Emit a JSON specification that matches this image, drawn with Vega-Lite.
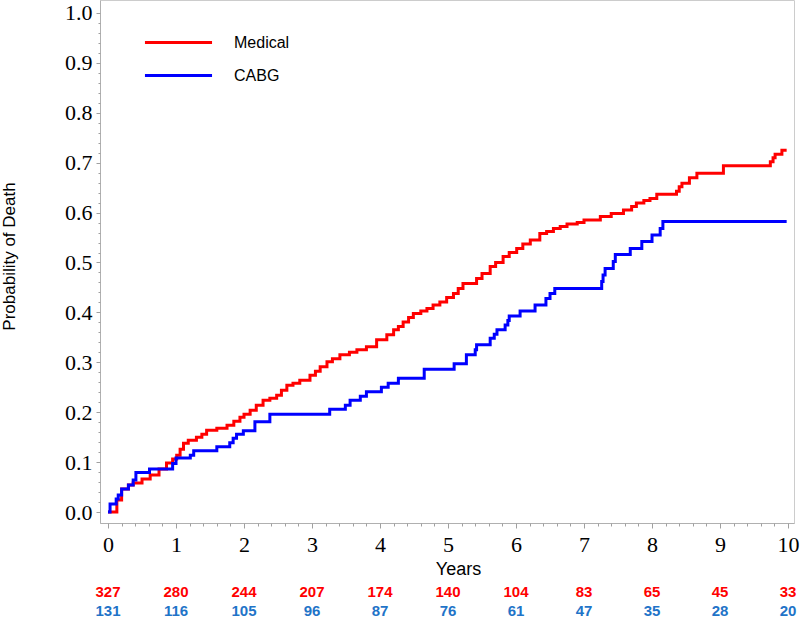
{
  "$schema": "https://vega.github.io/schema/vega-lite/v6.json",
  "autosize": "none",
  "width": 694,
  "height": 523,
  "padding": {"left": 100, "top": 0, "right": 6, "bottom": 96},
  "background": "white",
  "config": {
    "view": {"stroke": "#cccccc", "strokeWidth": 1},
    "axis": {"grid": false, "labelOverlap": false}
  },
  "resolve": {"axis": {"x": "independent", "y": "independent"}},
  "datasets": {
    "curves": [
      {"group": "Medical", "t": 0, "p": 0},
      {"group": "Medical", "t": 0.13, "p": 0.024},
      {"group": "Medical", "t": 0.2, "p": 0.046},
      {"group": "Medical", "t": 0.3, "p": 0.054},
      {"group": "Medical", "t": 0.37, "p": 0.058},
      {"group": "Medical", "t": 0.5, "p": 0.066},
      {"group": "Medical", "t": 0.62, "p": 0.074},
      {"group": "Medical", "t": 0.75, "p": 0.086},
      {"group": "Medical", "t": 0.86, "p": 0.098},
      {"group": "Medical", "t": 0.95, "p": 0.106},
      {"group": "Medical", "t": 1.01, "p": 0.114},
      {"group": "Medical", "t": 1.06, "p": 0.126},
      {"group": "Medical", "t": 1.11, "p": 0.138},
      {"group": "Medical", "t": 1.18, "p": 0.144},
      {"group": "Medical", "t": 1.3, "p": 0.15},
      {"group": "Medical", "t": 1.38, "p": 0.156},
      {"group": "Medical", "t": 1.45, "p": 0.164},
      {"group": "Medical", "t": 1.6, "p": 0.168},
      {"group": "Medical", "t": 1.75, "p": 0.174},
      {"group": "Medical", "t": 1.85, "p": 0.182},
      {"group": "Medical", "t": 1.94, "p": 0.19},
      {"group": "Medical", "t": 2.0, "p": 0.196},
      {"group": "Medical", "t": 2.09, "p": 0.204},
      {"group": "Medical", "t": 2.18, "p": 0.214},
      {"group": "Medical", "t": 2.28, "p": 0.224},
      {"group": "Medical", "t": 2.38, "p": 0.228},
      {"group": "Medical", "t": 2.48, "p": 0.234},
      {"group": "Medical", "t": 2.55, "p": 0.244},
      {"group": "Medical", "t": 2.63, "p": 0.254},
      {"group": "Medical", "t": 2.72, "p": 0.258},
      {"group": "Medical", "t": 2.82, "p": 0.264},
      {"group": "Medical", "t": 2.97, "p": 0.274},
      {"group": "Medical", "t": 3.05, "p": 0.282},
      {"group": "Medical", "t": 3.12, "p": 0.291},
      {"group": "Medical", "t": 3.22, "p": 0.301},
      {"group": "Medical", "t": 3.3, "p": 0.307},
      {"group": "Medical", "t": 3.41, "p": 0.315},
      {"group": "Medical", "t": 3.55, "p": 0.32},
      {"group": "Medical", "t": 3.66, "p": 0.325},
      {"group": "Medical", "t": 3.8, "p": 0.331},
      {"group": "Medical", "t": 3.95, "p": 0.345},
      {"group": "Medical", "t": 4.1, "p": 0.355},
      {"group": "Medical", "t": 4.2, "p": 0.365},
      {"group": "Medical", "t": 4.27, "p": 0.372},
      {"group": "Medical", "t": 4.34, "p": 0.381},
      {"group": "Medical", "t": 4.42, "p": 0.39},
      {"group": "Medical", "t": 4.49, "p": 0.398},
      {"group": "Medical", "t": 4.6, "p": 0.403},
      {"group": "Medical", "t": 4.69, "p": 0.408},
      {"group": "Medical", "t": 4.78, "p": 0.415},
      {"group": "Medical", "t": 4.88, "p": 0.421},
      {"group": "Medical", "t": 4.98, "p": 0.43},
      {"group": "Medical", "t": 5.08, "p": 0.438},
      {"group": "Medical", "t": 5.15, "p": 0.448},
      {"group": "Medical", "t": 5.22, "p": 0.458},
      {"group": "Medical", "t": 5.42, "p": 0.468},
      {"group": "Medical", "t": 5.5, "p": 0.478},
      {"group": "Medical", "t": 5.62, "p": 0.492},
      {"group": "Medical", "t": 5.7, "p": 0.5},
      {"group": "Medical", "t": 5.81, "p": 0.512},
      {"group": "Medical", "t": 5.9, "p": 0.52},
      {"group": "Medical", "t": 6.01, "p": 0.528},
      {"group": "Medical", "t": 6.1, "p": 0.537},
      {"group": "Medical", "t": 6.21, "p": 0.545},
      {"group": "Medical", "t": 6.35, "p": 0.558},
      {"group": "Medical", "t": 6.45, "p": 0.562},
      {"group": "Medical", "t": 6.55, "p": 0.568},
      {"group": "Medical", "t": 6.65, "p": 0.572},
      {"group": "Medical", "t": 6.75, "p": 0.577},
      {"group": "Medical", "t": 6.9, "p": 0.58},
      {"group": "Medical", "t": 7.0, "p": 0.585},
      {"group": "Medical", "t": 7.24, "p": 0.592},
      {"group": "Medical", "t": 7.4, "p": 0.598},
      {"group": "Medical", "t": 7.58, "p": 0.605},
      {"group": "Medical", "t": 7.7, "p": 0.612},
      {"group": "Medical", "t": 7.77, "p": 0.619},
      {"group": "Medical", "t": 7.88, "p": 0.624},
      {"group": "Medical", "t": 7.97, "p": 0.628},
      {"group": "Medical", "t": 8.07, "p": 0.637},
      {"group": "Medical", "t": 8.36, "p": 0.643},
      {"group": "Medical", "t": 8.4, "p": 0.652},
      {"group": "Medical", "t": 8.44, "p": 0.659},
      {"group": "Medical", "t": 8.55, "p": 0.67},
      {"group": "Medical", "t": 8.66, "p": 0.679},
      {"group": "Medical", "t": 9.05, "p": 0.694},
      {"group": "Medical", "t": 9.74, "p": 0.702},
      {"group": "Medical", "t": 9.78, "p": 0.71},
      {"group": "Medical", "t": 9.81, "p": 0.717},
      {"group": "Medical", "t": 9.91, "p": 0.725},
      {"group": "Medical", "t": 9.98, "p": 0.725},
      {"group": "CABG", "t": 0, "p": 0},
      {"group": "CABG", "t": 0.03, "p": 0.016},
      {"group": "CABG", "t": 0.12, "p": 0.026},
      {"group": "CABG", "t": 0.15, "p": 0.034},
      {"group": "CABG", "t": 0.2, "p": 0.046},
      {"group": "CABG", "t": 0.3, "p": 0.054},
      {"group": "CABG", "t": 0.37, "p": 0.064},
      {"group": "CABG", "t": 0.41, "p": 0.079},
      {"group": "CABG", "t": 0.61, "p": 0.086},
      {"group": "CABG", "t": 0.95, "p": 0.097},
      {"group": "CABG", "t": 1.0, "p": 0.108},
      {"group": "CABG", "t": 1.21, "p": 0.114},
      {"group": "CABG", "t": 1.26, "p": 0.123},
      {"group": "CABG", "t": 1.6, "p": 0.131},
      {"group": "CABG", "t": 1.79, "p": 0.139},
      {"group": "CABG", "t": 1.84, "p": 0.148},
      {"group": "CABG", "t": 1.89, "p": 0.156},
      {"group": "CABG", "t": 1.99, "p": 0.163},
      {"group": "CABG", "t": 2.16, "p": 0.181},
      {"group": "CABG", "t": 2.38, "p": 0.196},
      {"group": "CABG", "t": 3.26, "p": 0.206},
      {"group": "CABG", "t": 3.49, "p": 0.214},
      {"group": "CABG", "t": 3.56, "p": 0.224},
      {"group": "CABG", "t": 3.71, "p": 0.232},
      {"group": "CABG", "t": 3.8, "p": 0.241},
      {"group": "CABG", "t": 4.02, "p": 0.25},
      {"group": "CABG", "t": 4.12, "p": 0.258},
      {"group": "CABG", "t": 4.27, "p": 0.268},
      {"group": "CABG", "t": 4.65, "p": 0.286},
      {"group": "CABG", "t": 5.09, "p": 0.297},
      {"group": "CABG", "t": 5.27, "p": 0.315},
      {"group": "CABG", "t": 5.4, "p": 0.325},
      {"group": "CABG", "t": 5.42, "p": 0.335},
      {"group": "CABG", "t": 5.62, "p": 0.348},
      {"group": "CABG", "t": 5.68, "p": 0.356},
      {"group": "CABG", "t": 5.72, "p": 0.365},
      {"group": "CABG", "t": 5.84, "p": 0.375},
      {"group": "CABG", "t": 5.88, "p": 0.384},
      {"group": "CABG", "t": 5.9, "p": 0.393},
      {"group": "CABG", "t": 6.06, "p": 0.403},
      {"group": "CABG", "t": 6.28, "p": 0.415},
      {"group": "CABG", "t": 6.44, "p": 0.428},
      {"group": "CABG", "t": 6.5, "p": 0.438},
      {"group": "CABG", "t": 6.57, "p": 0.448},
      {"group": "CABG", "t": 7.26, "p": 0.462},
      {"group": "CABG", "t": 7.28, "p": 0.475},
      {"group": "CABG", "t": 7.31, "p": 0.488},
      {"group": "CABG", "t": 7.43, "p": 0.502},
      {"group": "CABG", "t": 7.46, "p": 0.516},
      {"group": "CABG", "t": 7.68, "p": 0.528},
      {"group": "CABG", "t": 7.85, "p": 0.542},
      {"group": "CABG", "t": 8.0, "p": 0.555},
      {"group": "CABG", "t": 8.12, "p": 0.568},
      {"group": "CABG", "t": 8.16, "p": 0.582},
      {"group": "CABG", "t": 9.98, "p": 0.582}
    ],
    "risk": [
      {"group": "Medical", "t": 0, "n": 327},
      {"group": "Medical", "t": 1, "n": 280},
      {"group": "Medical", "t": 2, "n": 244},
      {"group": "Medical", "t": 3, "n": 207},
      {"group": "Medical", "t": 4, "n": 174},
      {"group": "Medical", "t": 5, "n": 140},
      {"group": "Medical", "t": 6, "n": 104},
      {"group": "Medical", "t": 7, "n": 83},
      {"group": "Medical", "t": 8, "n": 65},
      {"group": "Medical", "t": 9, "n": 45},
      {"group": "Medical", "t": 10, "n": 33},
      {"group": "CABG", "t": 0, "n": 131},
      {"group": "CABG", "t": 1, "n": 116},
      {"group": "CABG", "t": 2, "n": 105},
      {"group": "CABG", "t": 3, "n": 96},
      {"group": "CABG", "t": 4, "n": 87},
      {"group": "CABG", "t": 5, "n": 76},
      {"group": "CABG", "t": 6, "n": 61},
      {"group": "CABG", "t": 7, "n": 47},
      {"group": "CABG", "t": 8, "n": 35},
      {"group": "CABG", "t": 9, "n": 28},
      {"group": "CABG", "t": 10, "n": 20}
    ]
  },
  "layer": [
    {
      "data": {"name": "curves"},
      "mark": {"type": "line", "interpolate": "step-after", "strokeWidth": 3},
      "encoding": {
        "x": {
          "field": "t", "type": "quantitative",
          "scale": {"domain": [-0.118, 10.088], "nice": false, "zero": false},
          "axis": {
            "orient": "bottom",
            "title": "Years",
            "titleFont": "Liberation Sans", "titleFontSize": 18, "titleFontWeight": "normal", "titleColor": "black",
            "titleX": 358, "titleY": 51, "titleAlign": "center", "titleBaseline": "alphabetic",
            "values": [0,1,2,3,4,5,6,7,8,9,10],
            "format": "d",
            "labelFont": "Liberation Serif", "labelFontSize": 22, "labelColor": "black",
            "labelPadding": 6, "labelFlush": false, "labelOverlap": false,
            "domainColor": "#b0b0b0", "tickColor": "#a0a0a0", "tickSize": 5
          }
        },
        "y": {
          "field": "p", "type": "quantitative",
          "scale": {"domain": [-0.022, 1.026], "nice": false, "zero": false},
          "axis": {
            "orient": "left",
            "title": "Probability of Death",
            "titleFont": "Liberation Sans", "titleFontSize": 17, "titleFontWeight": "normal", "titleColor": "black",
            "titleX": -91, "titleY": 256, "titleAngle": -90, "titleAlign": "center", "titleBaseline": "middle",
            "values": [0,0.1,0.2,0.3,0.4,0.5,0.6,0.7,0.8,0.9,1.0],
            "format": ".1f",
            "labelFont": "Liberation Serif", "labelFontSize": 22, "labelColor": "black",
            "labelPadding": 4, "labelFlush": false, "labelOverlap": false,
            "domainColor": "#b0b0b0", "tickColor": "#a0a0a0", "tickSize": 4
          }
        },
        "color": {
          "field": "group", "type": "nominal",
          "scale": {"domain": ["Medical", "CABG"], "range": ["#ff0000", "#0000ff"]},
          "legend": {
            "orient": "none", "legendX": 70, "legendY": 34, "title": null,
            "symbolType": "M-5,0H5", "symbolSize": 180, "symbolStrokeWidth": 3,
            "labelFont": "Liberation Sans", "labelFontSize": 16, "labelColor": "black",
            "labelOffset": 47, "rowPadding": 16, "padding": 0
          }
        }
      }
    },
    {
      "data": {"name": "risk"},
      "transform": [{"filter": "datum.group === 'Medical'"}],
      "mark": {"type": "text", "font": "Liberation Sans", "fontSize": 15, "fontWeight": "bold", "color": "#ff0000", "align": "center", "baseline": "middle"},
      "encoding": {
        "x": {
          "field": "t", "type": "quantitative",
          "axis": {
            "orient": "bottom", "title": null, "labels": false, "domain": false,
            "values": [0,0.2,0.4,0.6,0.8,1,1.2,1.4,1.6,1.8,2,2.2,2.4,2.6,2.8,3,3.2,3.4,3.6,3.8,4,4.2,4.4,4.6,4.8,5,5.2,5.4,5.6,5.8,6,6.2,6.4,6.6,6.8,7,7.2,7.4,7.6,7.8,8,8.2,8.4,8.6,8.8,9,9.2,9.4,9.6,9.8,10],
            "tickColor": "#a0a0a0", "tickSize": 3
          }
        },
        "y": {
          "datum": -0.161,
          "axis": {
            "orient": "left", "title": null, "labels": false, "domain": false,
            "values": [0,0.02,0.04,0.06,0.08,0.1,0.12,0.14,0.16,0.18,0.2,0.22,0.24,0.26,0.28,0.3,0.32,0.34,0.36,0.38,0.4,0.42,0.44,0.46,0.48,0.5,0.52,0.54,0.56,0.58,0.6,0.62,0.64,0.66,0.68,0.7,0.72,0.74,0.76,0.78,0.8,0.82,0.84,0.86,0.88,0.9,0.92,0.94,0.96,0.98,1.0],
            "tickColor": "#a0a0a0", "tickSize": 2
          }
        },
        "text": {"field": "n", "type": "quantitative"}
      }
    },
    {
      "data": {"name": "risk"},
      "transform": [{"filter": "datum.group === 'CABG'"}],
      "mark": {"type": "text", "font": "Liberation Sans", "fontSize": 15, "fontWeight": "bold", "color": "#1f74c8", "align": "center", "baseline": "middle"},
      "encoding": {
        "x": {"field": "t", "type": "quantitative", "axis": null},
        "y": {"datum": -0.199, "axis": null},
        "text": {"field": "n", "type": "quantitative"}
      }
    }
  ]
}
